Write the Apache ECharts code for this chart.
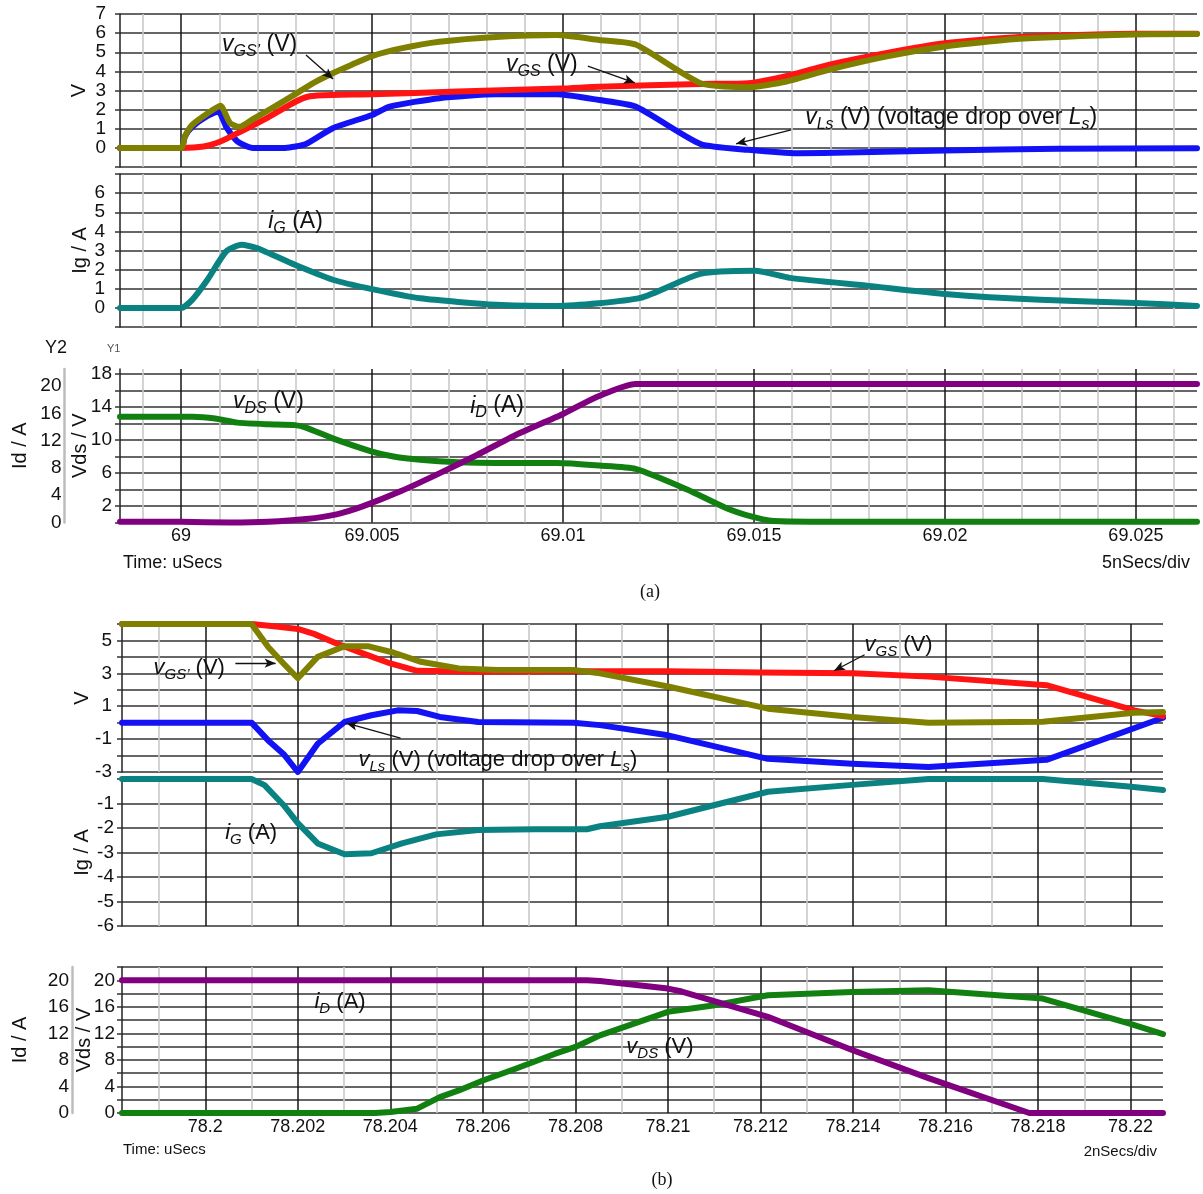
<!DOCTYPE html>
<html>
<head>
<meta charset="utf-8">
<script src="https://cdn.jsdelivr.net/npm/echarts@6/dist/echarts.min.js"></script>
<style>
  html, body { margin: 0; padding: 0; background: #fff; }
  #chart { width: 1203px; height: 1194px; }
</style>
</head>
<body>
<div id="chart"></div>
<script>
// ---------- (a) turn-on transient, time in µs ----------
const xRangeA = [68.9984, 69.0266];
const majorTicksA = [69, 69.005, 69.01, 69.015, 69.02, 69.025];
const minorTicksA = [68.999, 69.001, 69.002, 69.003, 69.004, 69.006, 69.007, 69.008, 69.009,
  69.011, 69.012, 69.013, 69.014, 69.016, 69.017, 69.018, 69.019, 69.021, 69.022, 69.023, 69.024, 69.026];

const vGridA = [-1, 0, 1, 2, 3, 4, 5, 6, 7];
const vLabelsA = [0, 1, 2, 3, 4, 5, 6, 7];
const igGridA = [-1, 0, 1, 2, 3, 4, 5, 6, 7];
const igLabelsA = [0, 1, 2, 3, 4, 5, 6];
const vdsGridA = [0, 2, 4, 6, 8, 10, 12, 14, 16, 18];
const vdsLabelsA = [2, 6, 10, 14, 18];
const idLabelsA = [0, 4, 8, 12, 16, 20];

const vgsPrimeA_t = [68.9984, 69.0, 69.0001, 69.00029, 69.00069, 69.00103, 69.00128, 69.00153, 69.00188, 69.00248,
  69.00298, 69.00347, 69.00397, 69.00447, 69.005, 69.00576, 69.00676, 69.00825, 69.00984, 69.01095, 69.0119,
  69.0136, 69.01485, 69.01585, 69.01695, 69.01845, 69.02, 69.02195, 69.02495, 69.0266];
const vgsPrimeA_v = [0, 0, 0.6, 1.2, 1.8, 2.2, 1.3, 1.1, 1.5, 2.2,
  2.8, 3.4, 3.9, 4.35, 4.8, 5.2, 5.55, 5.8, 5.9, 5.64, 5.4,
  3.38, 3.17, 3.47, 4.08, 4.77, 5.3, 5.7, 5.93, 5.95];

const vgsA_t = [68.9984, 69.0, 69.00059, 69.00103, 69.00148, 69.00228, 69.00298, 69.00337, 69.00397, 69.005,
  69.00725, 69.00994, 69.01095, 69.0136, 69.01485, 69.01595, 69.01695, 69.01845, 69.02, 69.02195, 69.02495, 69.0266];
const vgsA_v = [0, 0, 0.07, 0.33, 0.77, 1.6, 2.4, 2.7, 2.77, 2.8,
  2.95, 3.1, 3.2, 3.34, 3.38, 3.8, 4.34, 4.95, 5.47, 5.8, 5.97, 5.97];

const vlsA_t = [68.9984, 69.0, 69.0001, 69.00029, 69.00069, 69.00098, 69.00118, 69.00148, 69.00188, 69.00272,
  69.00327, 69.00397, 69.005, 69.00546, 69.00676, 69.00825, 69.00984, 69.01095, 69.0119, 69.0136,
  69.01485, 69.01615, 69.01745, 69.02, 69.02295, 69.0266];
const vlsA_v = [0, 0, 0.6, 1.1, 1.67, 1.9, 1.1, 0.33, 0, 0,
  0.2, 1.03, 1.72, 2.16, 2.6, 2.8, 2.8, 2.5, 2.16, 0.2,
  -0.1, -0.28, -0.24, -0.14, -0.05, -0.02];

const igA_t = [68.9984, 69.0, 69.00029, 69.00069, 69.00118, 69.00158, 69.00198, 69.00298, 69.00397, 69.005,
  69.00626, 69.00825, 69.00984, 69.01202, 69.01359, 69.01503, 69.01594, 69.018, 69.02, 69.0225, 69.025, 69.0266];
const igA_v = [0, 0, 0.42, 1.47, 2.95, 3.3, 3.13, 2.25, 1.47, 0.98,
  0.5, 0.16, 0.1, 0.52, 1.78, 1.94, 1.57, 1.15, 0.73, 0.42, 0.26, 0.1];

const vdsA_t = [68.9984, 69.00029, 69.00089, 69.00148, 69.00228, 69.00298, 69.00327, 69.00397, 69.005, 69.00556,
  69.00626, 69.00725, 69.00825, 69.00984, 69.01095, 69.0119, 69.01325, 69.01425, 69.01495, 69.01545, 69.01645, 69.0266];
const vdsA_v = [12.8, 12.8, 12.6, 12.1, 11.9, 11.8, 11.5, 10.2, 8.6, 8.0,
  7.6, 7.3, 7.2, 7.2, 6.9, 6.5, 4.0, 1.8, 0.7, 0.2, 0.1, 0.1];

const idA_t = [68.9984, 69.0, 69.00128, 69.00228, 69.00327, 69.00407, 69.00477, 69.00576, 69.00676, 69.00775,
  69.00875, 69.01, 69.01084, 69.0119, 69.0266];
const idA_v = [0.1, 0.1, 0.0, 0.1, 0.5, 1.2, 2.4, 4.6, 7.2, 9.9,
  12.8, 15.9, 18.3, 20.3, 20.3];

// ---------- (b) turn-off transient, time in µs ----------
const xRangeB = [78.1982, 78.2207];
const majorTicksB = [78.2, 78.202, 78.204, 78.206, 78.208, 78.21, 78.212, 78.214, 78.216, 78.218, 78.22];
const minorTicksB = [78.199, 78.201, 78.203, 78.205, 78.207, 78.209, 78.211, 78.213, 78.215, 78.217, 78.219];

const vGridB = [-3, -2, -1, 0, 1, 2, 3, 4, 5, 6];
const vLabelsB = [-3, -1, 1, 3, 5];
const igGridB = [-6, -5, -4, -3, -2, -1, 0];
const igLabelsB = [-6, -5, -4, -3, -2, -1];
const vdsGridB = [0, 2, 4, 6, 8, 10, 12, 14, 16, 18, 20, 22];
const vdsLabelsB = [0, 4, 8, 12, 16, 20];
const idLabelsB = [0, 4, 8, 12, 16, 20];

const vgsPrimeB_t = [78.1982, 78.201, 78.20136, 78.20169, 78.202, 78.20243, 78.20301, 78.20351, 78.20408, 78.20466,
  78.20548, 78.20631, 78.20796, 78.20853, 78.21, 78.21216, 78.21398, 78.21563, 78.2181, 78.22008, 78.2207];
const vgsPrimeB_v = [6.0, 6.0, 4.6, 3.6, 2.7, 4.0, 4.65, 4.65, 4.25, 3.7,
  3.3, 3.2, 3.2, 3.0, 2.2, 0.85, 0.35, 0.0, 0.05, 0.6, 0.65];

const vgsB_t = [78.1982, 78.201, 78.20153, 78.202, 78.20235, 78.20285, 78.20342, 78.204, 78.20458, 78.2059,
  78.20796, 78.21, 78.212, 78.214, 78.21563, 78.21818, 78.22008, 78.2207];
const vgsB_v = [6.0, 6.0, 5.85, 5.7, 5.4, 4.8, 4.2, 3.6, 3.15, 3.1,
  3.12, 3.13, 3.05, 3.0, 2.8, 2.28, 0.75, 0.4];

const vlsB_t = [78.1982, 78.201, 78.20136, 78.20169, 78.202, 78.20243, 78.20301, 78.20359, 78.20416, 78.20458,
  78.20507, 78.2059, 78.20796, 78.20853, 78.21, 78.21216, 78.21398, 78.21563, 78.21818, 78.2207];
const vlsB_v = [0, 0, -1.08, -1.9, -3.0, -1.28, 0.04, 0.45, 0.75, 0.71,
  0.35, 0.04, 0, -0.15, -0.77, -2.2, -2.5, -2.7, -2.26, 0.3];

const igB_t = [78.1982, 78.201, 78.20128, 78.20169, 78.202, 78.20243, 78.20301, 78.20359, 78.20425, 78.20499,
  78.2059, 78.20713, 78.20825, 78.20853, 78.21, 78.21101, 78.21216, 78.21398, 78.21563, 78.2181, 78.21996, 78.2207];
const igB_v = [0, 0, -0.25, -1.06, -1.8, -2.63, -3.07, -3.03, -2.63, -2.26,
  -2.08, -2.05, -2.05, -1.93, -1.54, -1.06, -0.52, -0.24, 0, 0, -0.31, -0.45];

const vdsB_t = [78.1982, 78.20367, 78.204, 78.20458, 78.20507, 78.20548, 78.206, 78.20672, 78.20755, 78.208,
  78.20853, 78.21, 78.21101, 78.21216, 78.21398, 78.21563, 78.2181, 78.21996, 78.2207];
const vdsB_v = [0, 0, 0.15, 0.65, 2.4, 3.4, 4.9, 6.7, 8.9, 9.95,
  11.7, 15.25, 16.25, 17.75, 18.25, 18.5, 17.25, 13.5, 11.9];

const idB_t = [78.1982, 78.20825, 78.20853, 78.21, 78.2103, 78.21216, 78.21398, 78.21563, 78.21781, 78.2207];
const idB_v = [20, 20, 19.9, 18.75, 18.3, 14.5, 9.5, 5.25, 0, 0];

// ---------- styling ----------
const FONT = '"Liberation Sans", Arial, Helvetica, sans-serif';
const SERIF = '"Liberation Serif", "Times New Roman", serif';
const C = {
  red: '#ff1414', olive: '#808000', blue: '#1212f5',
  teal: '#0b8282', green: '#118011', purple: '#800080'
};
const pts = (t, v) => t.map((x, i) => [x, v[i]]);
const fmtTime = v => String(+(+v).toFixed(4));

// grid boxes
const grids = [
  { left: 120, top: 14, width: 1077, height: 153 },    // (a) V
  { left: 120, top: 174, width: 1077, height: 153 },   // (a) Ig
  { left: 120, top: 369, width: 1077, height: 153.5 }, // (a) Vds / Id
  { left: 122, top: 624, width: 1041, height: 148 },   // (b) V
  { left: 122, top: 779, width: 1041, height: 147 },   // (b) Ig
  { left: 122, top: 967, width: 1041, height: 146 }    // (b) Vds / Id
].map(g => Object.assign({ outerBoundsMode: 'none', containLabel: false }, g));

// two x axes per grid: light minor lines, then dark major lines (+labels at the bottom)
function xPair(gi, range, minor, major, labelled) {
  return [
    {
      type: 'value', gridIndex: gi, min: range[0], max: range[1], position: 'bottom',
      axisLine: { show: false, onZero: false },
      axisTick: { show: false, customValues: minor },
      axisLabel: { show: false },
      splitLine: { show: true, lineStyle: { color: '#c9c9c9', width: 1.6 } }
    },
    {
      type: 'value', gridIndex: gi, min: range[0], max: range[1], position: 'bottom',
      axisLine: { show: false, onZero: false },
      axisTick: { show: false, customValues: major },
      axisLabel: {
        show: labelled, customValues: major, margin: 5, formatter: fmtTime,
        fontSize: 18, fontFamily: FONT, color: '#111'
      },
      splitLine: { show: true, lineStyle: { color: '#151515', width: 1.5 } }
    }
  ];
}

function yMain(gi, min, max, gridVals, labelVals, name, nameGap, margin) {
  return {
    type: 'value', gridIndex: gi, min, max, position: 'left',
    name, nameLocation: 'middle', nameGap, nameRotate: 90, nameMoveOverlap: false,
    nameTextStyle: { fontSize: 20, fontFamily: FONT, color: '#111' },
    axisLine: { show: true, onZero: false, lineStyle: { color: '#222', width: 1.5 } },
    axisTick: { show: true, length: 5, customValues: gridVals, lineStyle: { color: '#333', width: 1.5 } },
    axisLabel: {
      show: true, customValues: labelVals, margin, formatter: v => String(v),
      fontSize: 19, fontFamily: FONT, color: '#111'
    },
    splitLine: { show: true, lineStyle: { color: '#333', width: 1.5 } }
  };
}

function yCurrent(gi, max, labelVals, offset, nameGap) {
  return {
    type: 'value', gridIndex: gi, min: 0, max, position: 'left', offset,
    name: 'Id / A', nameLocation: 'middle', nameGap, nameRotate: 90, nameMoveOverlap: false,
    nameTextStyle: { fontSize: 20, fontFamily: FONT, color: '#111' },
    axisLine: { show: true, onZero: false, lineStyle: { color: '#bdbdbd', width: 2.5 } },
    axisTick: { show: false, customValues: labelVals },
    axisLabel: {
      show: true, customValues: labelVals, margin: 3, formatter: v => String(v),
      fontSize: 19, fontFamily: FONT, color: '#111'
    },
    splitLine: { show: false }
  };
}

const xAxes = [].concat(
  xPair(0, xRangeA, minorTicksA, majorTicksA, false),
  xPair(1, xRangeA, minorTicksA, majorTicksA, false),
  xPair(2, xRangeA, minorTicksA, majorTicksA, true),
  xPair(3, xRangeB, minorTicksB, majorTicksB, false),
  xPair(4, xRangeB, minorTicksB, majorTicksB, false),
  xPair(5, xRangeB, minorTicksB, majorTicksB, true)
);

const yAxes = [
  yMain(0, -1, 7, vGridA, vLabelsA, 'V', 31, 14),             // 0
  yMain(1, -1, 7, igGridA, igLabelsA, 'Ig / A', 30, 15),      // 1
  yMain(2, 0, 18.6, vdsGridA, vdsLabelsA, 'Vds / V', 30, 8),  // 2
  yCurrent(2, 22.5, idLabelsA, 55.5, 34),                     // 3
  yMain(3, -3, 6, vGridB, vLabelsB, 'V', 30, 10),             // 4
  yMain(4, -6, 0, igGridB, igLabelsB, 'Ig / A', 30, 8),       // 5
  yMain(5, 0, 22, vdsGridB, vdsLabelsB, 'Vds / V', 28, 7),    // 6
  yCurrent(5, 22, idLabelsB, 50, 42)                          // 7
];

// annotation text: italic symbol with subscript
function rich(size) {
  return {
    i: { fontStyle: 'italic', fontSize: size, fontFamily: FONT, color: '#111', lineHeight: size + 6 },
    s: { fontStyle: 'italic', fontSize: Math.round(size * 0.68), fontFamily: FONT, color: '#111',
         lineHeight: Math.round(size * 0.6), verticalAlign: 'bottom' },
    n: { fontSize: size, fontFamily: FONT, color: '#111', lineHeight: size + 6 }
  };
}
function note(coord, text, size) {
  return {
    coord, symbol: 'circle', symbolSize: 0,
    label: { show: true, position: 'right', distance: 0, formatter: () => text, rich: rich(size) }
  };
}
function arrows(list) {
  return {
    silent: true, symbol: ['none', 'arrow'], symbolSize: [7, 11],
    lineStyle: { color: '#111', width: 1.3, type: 'solid' },
    label: { show: false }, emphasis: { disabled: true },
    data: list.map(p => [{ coord: p[0] }, { coord: p[1] }])
  };
}

// waveform trace; the turn-on traces are drawn slightly rounded
function line(name, t, v, color, xi, yi, smooth, extra) {
  return Object.assign({
    type: 'line', name, data: pts(t, v), xAxisIndex: xi, yAxisIndex: yi,
    symbol: 'none', showSymbol: false, clip: false, silent: true, smooth,
    lineStyle: { color, width: 6, cap: 'round', join: 'round' },
    itemStyle: { color }, z: 3
  }, extra || {});
}

const VGSP = "{i|v}{s|GS\u2019}{n| (V)}";
const VGS = "{i|v}{s|GS}{n| (V)}";
const VLS = "{i|v}{s|Ls}{n| (V) (voltage drop over }{i|L}{s|s}{n|)}";
const IG = "{i|i}{s|G}{n| (A)}";
const ID = "{i|i}{s|D}{n| (A)}";
const VDS = "{i|v}{s|DS}{n| (V)}";

const SA = 0.2;    // rounding for (a)
const SB = false;  // (b) drawn as straight segments

const series = [
  // (a) voltages
  line('vLs a', vlsA_t, vlsA_v, C.blue, 1, 0, SA, {
    markPoint: { silent: true, data: [note([69.01634, 1.57], VLS, 23)] },
    markLine: arrows([[[69.01597, 0.94], [69.01453, 0.21]]])
  }),
  line('vGS a', vgsA_t, vgsA_v, C.red, 1, 0, SA, {
    markPoint: { silent: true, data: [note([69.00851, 4.34], VGS, 23)] },
    markLine: arrows([[[69.01065, 4.28], [69.01188, 3.4]]])
  }),
  line("vGS' a", vgsPrimeA_t, vgsPrimeA_v, C.olive, 1, 0, SA, {
    markPoint: { silent: true, data: [note([69.00107, 5.38], VGSP, 23)] },
    markLine: arrows([[[69.00327, 4.86], [69.00398, 3.6]]])
  }),
  // (a) gate current
  line('iG a', igA_t, igA_v, C.teal, 3, 1, SA, {
    markPoint: { silent: true, data: [note([69.00228, 4.5], IG, 23)] }
  }),
  // (a) drain voltage and current
  line('vDS a', vdsA_t, vdsA_v, C.green, 5, 2, SA, {
    markPoint: { silent: true, data: [note([69.00136, 14.6], VDS, 23), note([69.00757, 14.1], ID, 23)] }
  }),
  line('iD a', idA_t, idA_v, C.purple, 5, 3, SA),

  // (b) voltages
  line('vLs b', vlsB_t, vlsB_v, C.blue, 7, 4, SB, {
    markPoint: { silent: true, data: [note([78.20331, -2.29], VLS, 22)] },
    markLine: arrows([[[78.20422, -0.94], [78.20305, -0.03]]])
  }),
  line('vGS b', vgsB_t, vgsB_v, C.red, 7, 4, SB, {
    markPoint: { silent: true, data: [note([78.21425, 4.72], VGS, 22)] },
    markLine: arrows([[[78.21425, 4.13], [78.21359, 3.16]]])
  }),
  line("vGS' b", vgsPrimeB_t, vgsPrimeB_v, C.olive, 7, 4, SB, {
    markPoint: { silent: true, data: [note([78.19888, 3.32], VGSP, 22)] },
    markLine: arrows([[[78.20065, 3.62], [78.20152, 3.62]]])
  }),
  // (b) gate current
  line('iG b', igB_t, igB_v, C.teal, 9, 5, SB, {
    markPoint: { silent: true, data: [note([78.20043, -2.2], IG, 22)] }
  }),
  // (b) drain voltage and current
  line('vDS b', vdsB_t, vdsB_v, C.green, 11, 6, SB, {
    markPoint: { silent: true, data: [note([78.2091, 9.9], VDS, 22), note([78.20236, 16.7], ID, 22)] }
  }),
  line('iD b', idB_t, idB_v, C.purple, 11, 7, SB)
];

const txt = (x, y, text, size, align, family, color) => ({
  type: 'text', x, y, silent: true,
  style: { text, fontSize: size, fontFamily: family || FONT, fill: color || '#111',
           align: align || 'left', verticalAlign: 'middle' }
});

const graphic = [
  txt(45, 348, 'Y2', 18),
  txt(107, 349, 'Y1', 11, 'left', FONT, '#555'),
  txt(123, 563, 'Time: uSecs', 18),
  txt(1190, 563, '5nSecs/div', 18, 'right'),
  txt(650, 592, '(a)', 18, 'center', SERIF),
  txt(123, 1150, 'Time: uSecs', 15),
  txt(1157, 1152, '2nSecs/div', 15, 'right'),
  txt(662, 1180, '(b)', 18, 'center', SERIF)
];

const chart = echarts.init(document.getElementById('chart'), null, { renderer: 'canvas' });
chart.setOption({
  animation: false,
  backgroundColor: '#ffffff',
  grid: grids,
  xAxis: xAxes,
  yAxis: yAxes,
  series,
  graphic
});
</script>
</body>
</html>
